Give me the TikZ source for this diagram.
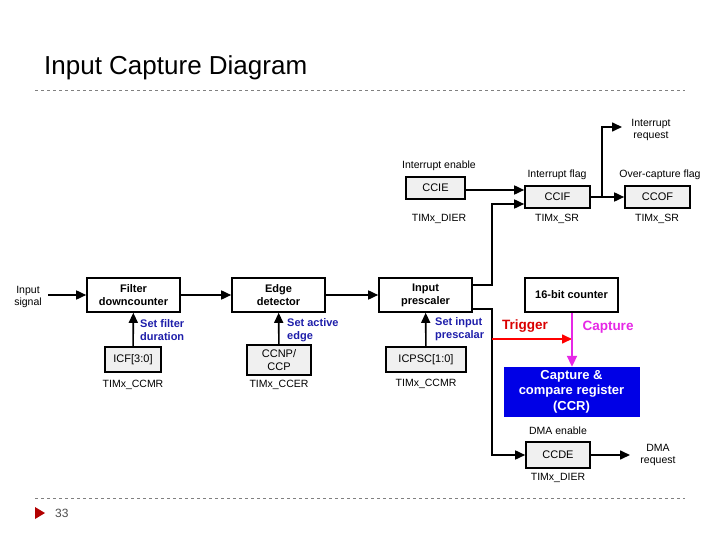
\documentclass[tikz,border=0pt]{standalone}
\usepackage{fontspec}
\setmainfont{Liberation Sans}
\usetikzlibrary{arrows.meta}
\definecolor{setblue}{RGB}{30,30,170}
\definecolor{ccrblue}{RGB}{0,0,230}
\definecolor{mag}{RGB}{230,40,230}
\begin{document}
\begin{tikzpicture}[x=1pt,y=-1pt,
  blk/.style={draw,line width=1.6pt,fill=white,font=\fontsize{11}{13}\selectfont\bfseries,align=center,inner sep=0pt},
  reg/.style={draw,line width=1.6pt,fill=gray!12,font=\fontsize{11}{12.5}\selectfont,align=center,inner sep=0pt},
  lab/.style={font=\fontsize{10.5}{12.5}\selectfont,align=center,inner sep=0pt},
  set/.style={font=\fontsize{11}{13.5}\selectfont\bfseries,text=setblue,align=left,inner sep=0pt,anchor=west},
  arr/.style={line width=1.6pt,-{Triangle[length=10pt,width=9pt]}},
  ln/.style={line width=1.6pt}]
\useasboundingbox (0,0) rectangle (720,540);
\node[anchor=west,font=\fontsize{26}{30}\selectfont,inner sep=0pt] (title) at (44,68) {Input Capture Diagram};
\draw[gray,dashed] (35,90) -- (685,90);
\draw[gray,dashed] (35,498) -- (685,498);
\fill[red!70!black] (35,507) -- (45,513) -- (35,519) -- cycle;
\node[anchor=west,font=\fontsize{12}{14}\selectfont,text=gray!60!black,inner sep=0pt] (pg) at (55,513) {33};

\node[blk,minimum width=93pt,minimum height=34pt] (flt) at (133.5,295) {Filter\\downcounter};
\node[blk,minimum width=93pt,minimum height=34pt] (edg) at (278.5,295) {Edge\\detector};
\node[blk,minimum width=93pt,minimum height=34pt] (psc) at (425.5,295) {Input\\prescaler};
\node[blk,minimum width=93pt,minimum height=34pt] (cnt) at (571.5,295) {16-bit counter};
\node[draw=ccrblue,fill=ccrblue,text=white,font=\fontsize{13}{15.5}\selectfont\bfseries,align=center,minimum width=135pt,minimum height=49pt,inner sep=0pt] (ccr) at (571.5,391.5) {Capture \&\\compare register\\(CCR)};

\node[reg,minimum width=56pt,minimum height=25pt] (icf) at (133,359.5) {ICF[3:0]};
\node[reg,minimum width=64pt,minimum height=30pt] (ccnp) at (279,360) {CCNP/\\CCP};
\node[reg,minimum width=80pt,minimum height=25pt] (icpsc) at (426,359.5) {ICPSC[1:0]};
\node[lab] (l1) at (133,385) {TIMx\_CCMR};
\node[lab] (l2) at (279,385) {TIMx\_CCER};
\node[lab] (l3) at (426,384) {TIMx\_CCMR};

\node[reg,minimum width=59pt,minimum height=22pt] (ccie) at (435.5,188) {CCIE};
\node[reg,minimum width=65pt,minimum height=22pt] (ccif) at (557.5,197) {CCIF};
\node[reg,minimum width=65pt,minimum height=22pt] (ccof) at (657.5,197) {CCOF};
\node[reg,minimum width=64pt,minimum height=26pt] (ccde) at (558,455) {CCDE};
\node[lab] (l4) at (439,166) {Interrupt enable};
\node[lab] (l5) at (557,175) {Interrupt flag};
\node[lab] (l6) at (660,175) {Over-capture flag};
\node[lab] (l7) at (439,219) {TIMx\_DIER};
\node[lab] (l8) at (557,219) {TIMx\_SR};
\node[lab] (l9) at (657,219) {TIMx\_SR};
\node[lab] (l10) at (558,431) {DMA enable};
\node[lab] (l11) at (558,478) {TIMx\_DIER};
\node[lab] (ireq) at (651,130) {Interrupt\\request};
\node[lab] (dreq) at (658,455) {DMA\\request};
\node[lab] (insig) at (28,297) {Input\\signal};

\node[set] (s1) at (140,330) {Set filter\\duration};
\node[set] (s2) at (287,330) {Set active\\edge};
\node[set] (s3) at (435,329) {Set input\\prescalar};
\node[font=\fontsize{13.5}{16}\selectfont\bfseries,text=red!85!black,inner sep=0pt] (trg) at (525,326) {Trigger};
\node[font=\fontsize{13.5}{16}\selectfont\bfseries,text=mag,inner sep=0pt] (cap) at (608,327) {Capture};

\coordinate (inS) at (48,295);
\draw[arr] (inS) -- (flt.west);
\draw[arr] (flt) -- (edg);
\draw[arr] (edg) -- (psc);
\draw[arr] (icf) -- (flt);
\draw[arr] (ccnp) -- (edg);
\draw[arr] (icpsc) -- (psc);

\coordinate (j1) at (492,285);
\coordinate (j2) at (492,204);
\draw[arr] (psc.east |- j1) -- (j1) -- (j2) -- (ccif.west |- j2);
\draw[arr] (ccie.east |- 0,190) -- (ccif.west |- 0,190);
\coordinate (sp) at (602,197);
\draw[arr] (ccif.east |- sp) -- (ccof.west |- sp);
\coordinate (up) at (602,127);
\coordinate (upE) at (622,127);
\draw[arr] (sp) -- (up) -- (upE);

\coordinate (k1) at (492,309);
\coordinate (k2) at (492,455);
\draw[arr] (psc.east |- k1) -- (k1) -- (k2) -- (ccde.west);
\coordinate (dE) at (630,455);
\draw[arr] (ccde.east) -- (dE);

\coordinate (tA) at (492,339);
\coordinate (tB) at (572,339);
\draw[line width=1.6pt,red,-{Triangle[length=10pt,width=9pt]}] (tA) -- (tB);
\draw[line width=2pt,mag,-{Triangle[length=11pt,width=10pt]}] (cnt.south -| tB) -- (ccr.north -| tB);
\end{tikzpicture}
\end{document}
